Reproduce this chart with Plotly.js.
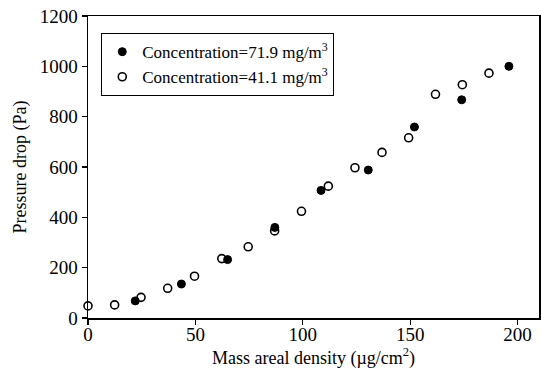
<!DOCTYPE html>
<html>
<head>
<meta charset="utf-8">
<script src="https://cdn.plot.ly/plotly-3.0.1.min.js"></script>
<style>html,body{margin:0;padding:0;background:#fff;}#chart{width:541px;height:378px;}</style>
</head>
<body>
<div id="chart"></div>
<script>
// Concentration = 71.9 mg/m3 (filled circles)
const densityHigh = [22, 43.5, 65, 87, 108.5, 130.5, 152, 174, 196];
const pressureHigh = [68, 135, 232, 360, 507, 588, 759, 867, 1000];
// Concentration = 41.1 mg/m3 (open circles)
const densityLow = [0, 12.4, 24.7, 37.1, 49.6, 62.3, 74.6, 86.9, 99.4, 111.9, 124.3, 136.9, 149.3, 161.8, 174.3, 186.7];
const pressureLow = [48, 52, 82, 118, 166, 236, 283, 346, 424, 524, 597, 658, 716, 889, 927, 973];
const seriesNames = ["Concentration=71.9 mg/m<sup>3</sup>", "Concentration=41.1 mg/m<sup>3</sup>"];
const xTicks = [0, 50, 100, 150, 200];
const yTicks = [0, 200, 400, 600, 800, 1000, 1200];

const font = "'Times New Roman', 'Liberation Serif', 'DejaVu Serif', serif";
const traces = [
  {x: densityHigh, y: pressureHigh, name: seriesNames[0], type: "scatter", mode: "markers",
   marker: {symbol: "circle", size: 8, color: "#000", line: {color: "#000", width: 1}}, cliponaxis: false},
  {x: densityLow, y: pressureLow, name: seriesNames[1], type: "scatter", mode: "markers",
   marker: {symbol: "circle-open", size: 8, color: "#000", line: {color: "#000", width: 1.6}}, cliponaxis: false}
];
const axisCommon = {showline: true, linewidth: 1.5, linecolor: "#000", mirror: true, ticks: "outside",
  ticklen: 5, tickwidth: 1.2, tickcolor: "#000", showgrid: false, zeroline: false,
  tickfont: {family: font, size: 19, color: "#000"}};
const layout = {
  width: 541, height: 378,
  margin: {l: 88, r: 2, t: 16, b: 60},
  paper_bgcolor: "#fff", plot_bgcolor: "#fff",
  font: {family: font, color: "#000"},
  showlegend: true,
  legend: {x: 0.029, y: 0.944, xanchor: "left", yanchor: "top", bordercolor: "#000", borderwidth: 1.2,
    bgcolor: "#fff", font: {family: font, size: 17, color: "#000"}, itemwidth: 30, tracegroupgap: 0},
  xaxis: Object.assign({}, axisCommon, {range: [0, 210], tickvals: xTicks, ticklabelstandoff: -6,
    title: {text: "Mass areal density (\u00b5g/cm<sup>2</sup>)", font: {family: font, size: 18, color: "#000"}, standoff: 2}}),
  yaxis: Object.assign({}, axisCommon, {range: [0, 1200], tickvals: yTicks,
    title: {text: "Pressure drop (Pa)", font: {family: font, size: 18, color: "#000"}, standoff: 8}})
};
Plotly.newPlot("chart", traces, layout, {displayModeBar: false, staticPlot: true});
</script>
</body>
</html>
